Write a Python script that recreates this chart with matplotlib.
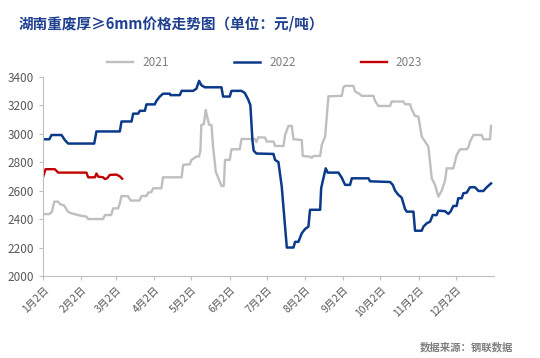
import matplotlib
matplotlib.use('Agg')
from matplotlib import pyplot as plt

plt.rcParams['font.family'] = ['Noto Sans CJK SC', 'DejaVu Sans']

# x = days since Jan 2
days_2021 = [0, 5, 7, 9, 12, 14, 17, 20, 23, 30, 35, 36.4, 48.5, 50, 55, 56.6, 60.7, 62, 63.4, 68.8,
             70.7, 78, 79.6, 83.6, 85, 87.6, 89, 95.7, 97, 112, 113.3, 118.7, 120, 124, 126.2, 127.3,
             128, 130, 131.6, 132.7, 134.3, 136.2, 137.5, 139.7, 142.9, 144.3, 146.2, 147.2, 151,
             152.4, 159.1, 160.5, 171.3, 172.6, 174, 179.6, 181, 186.4, 187.7, 194.5, 195.8, 198.5,
             201.2, 202.6, 209.3, 210.1, 216, 217.4, 218.8, 224.2, 225.5, 228.2, 230.9, 241.7, 243,
             244.4, 251.1, 252.5, 255.2, 257.9, 267.3, 268.6, 271.3, 280.8, 282.1, 291.6, 292.9, 297,
             298.3, 301, 303.7, 306.4, 309.1, 311.8, 314.5, 317.2, 319.9, 322.6, 325.3, 326.6, 332,
             334.7, 337.4, 342.8, 344.2, 345.5, 348.2, 355, 356.3, 361.7, 362.5]
vals_2021 = [2435, 2435, 2450, 2522, 2522, 2503, 2495, 2452, 2440, 2424, 2417, 2400, 2400, 2428, 2428,
             2475, 2475, 2510, 2562, 2560, 2530, 2530, 2562, 2562, 2585, 2590, 2616, 2616, 2693, 2693,
             2780, 2785, 2815, 2838, 2840, 2885, 3061, 3065, 3166, 3120, 3061, 3061, 2909, 2733, 2663,
             2632, 2632, 2815, 2815, 2890, 2890, 2962, 2962, 2940, 2974, 2972, 2944, 2944, 2913, 2913,
             2990, 3054, 3054, 2960, 2955, 2843, 2838, 2830, 2843, 2843, 2920, 2979, 3262, 3265, 3325,
             3335, 3335, 3295, 3283, 3265, 3265, 3230, 3194, 3194, 3225, 3225, 3206, 3206, 3170, 3124,
             3120, 2979, 2944, 2909, 2686, 2639, 2557, 2600, 2670, 2756, 2756, 2850, 2890, 2890, 2905,
             2944, 2990, 2990, 2960, 2960, 3054]

days_2022 = [0, 5, 6.7, 14.8, 17.5, 20.2, 41.3, 43.1, 62, 63.4, 71.5, 72.8, 76.9, 78.2, 82.3, 83.6,
             90.3, 91.7, 94.4, 97, 102.5, 103, 110.6, 112, 121.4, 124, 126.2, 128, 130.8, 144.3, 145.6,
             151, 152.4, 160.5, 163.2, 165.9, 167.7, 169.4, 170.4, 172.6, 186.4, 187.7, 190.4, 193.1,
             197.2, 202.6, 203.9, 206.6, 209.3, 212, 214.7, 216, 224.2, 225, 226.8, 228.7, 230.3, 239,
             241.7, 244.4, 248.4, 249.8, 263.3, 264.6, 280.8, 283, 284.8, 287.5, 290.2, 292.9, 294.3,
             299.7, 301, 306.4, 307.8, 310.5, 313.2, 315.3, 318.5, 319.9, 325.3, 328, 329.9, 332, 334.7,
             336, 338.8, 340.1, 342.8, 345.5, 349.6, 352.3, 356.3, 359, 362.5]
vals_2022 = [2960, 2960, 2990, 2990, 2955, 2930, 2930, 3015, 3015, 3085, 3085, 3140, 3140, 3160, 3160,
             3205, 3205, 3230, 3260, 3280, 3280, 3270, 3270, 3300, 3300, 3315, 3370, 3340, 3325, 3325,
             3260, 3260, 3300, 3300, 3285, 3240, 3200, 2950, 2880, 2860, 2857, 2815, 2800, 2628, 2200,
             2200, 2240, 2240, 2300, 2330, 2347, 2465, 2465, 2616, 2686, 2756, 2726, 2726, 2690, 2640,
             2640, 2686, 2686, 2665, 2660, 2640, 2600, 2570, 2550, 2470, 2452, 2452, 2318, 2318, 2347,
             2370, 2382, 2428, 2428, 2459, 2455, 2436, 2455, 2492, 2492, 2546, 2546, 2581, 2585, 2623,
             2623, 2597, 2597, 2623, 2650]

days_2023 = [0, 1.9, 9.4, 10.8, 12.1, 35, 36.4, 41.8, 43.1, 44.5, 48.5, 49.9, 51.8, 53.9, 59.3, 62, 63.9]
vals_2023 = [2698, 2750, 2750, 2738, 2726, 2726, 2693, 2693, 2720, 2698, 2693, 2681, 2686, 2710, 2712,
             2700, 2683]

tick_days = [0, 31, 59, 90, 120, 151, 181, 212, 243, 273, 304, 334]
tick_labels = ['1月2日', '2月2日', '3月2日', '4月2日', '5月2日', '6月2日', '7月2日', '8月2日',
               '9月2日', '10月2日', '11月2日', '12月2日']

fig = plt.figure(figsize=(5.4, 3.58), dpi=100)
ax = fig.add_axes([0.08, 0.229, 0.835, 0.557])

l1, = ax.plot(days_2021, vals_2021, color='#BFBFBF', lw=1.7, label='2021')
l2, = ax.plot(days_2022, vals_2022, color='#0B3A8A', lw=1.8, label='2022')
l3, = ax.plot(days_2023, vals_2023, color='#C00000', lw=1.7, label='2023')

ax.set_xlim(0, 365)
ax.set_ylim(2000, 3400)
ax.set_yticks(range(2000, 3401, 200))
ax.set_xticks(tick_days)
ax.set_xticklabels(tick_labels, rotation=45, ha='right', rotation_mode='anchor')
ax.tick_params(axis='both', colors='#BFBFBF', labelcolor='#595959', length=3)
ax.tick_params(axis='y', labelsize=8.5)
ax.tick_params(axis='x', labelsize=7.5)
for s in ['top', 'right']:
    ax.spines[s].set_visible(False)
for s in ['left', 'bottom']:
    ax.spines[s].set_color('#BFBFBF')

fig.legend(handles=[l1, l2, l3], loc='center', bbox_to_anchor=(0.49, 0.826), ncol=3, frameon=False,
           fontsize=8.5, handlelength=2.2, columnspacing=5.5, labelcolor='#7F7F7F')

fig.text(0.035, 0.935, '湖南重废厚≥6mm价格走势图（单位：元/吨）', fontsize=10.5, fontweight='bold',
         color='#1F3F8F', va='center')
fig.text(0.95, 0.03, '数据来源：钢联数据', fontsize=7.5, fontweight='bold', color='#7F7F7F',
         ha='right', va='center')

fig.savefig('out.png', dpi=100)
